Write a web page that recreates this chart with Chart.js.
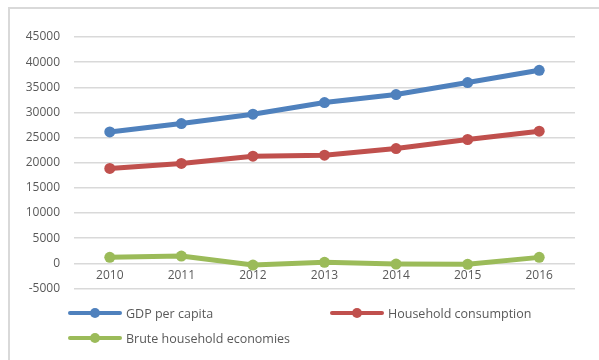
<!DOCTYPE html>
<html>
<head>
<meta charset="utf-8">
<script src="https://cdn.jsdelivr.net/npm/chart.js@4.4.1/dist/chart.umd.min.js"></script>
<style>
  html, body { margin: 0; padding: 0; background: #fff; overflow: hidden; width: 599px; height: 360px; }
  #frame { position: absolute; left: 8px; top: 7px; width: 800px; height: 500px; border: 2px solid #d9d9d9; box-sizing: border-box; }
  #wrap { position: absolute; left: 0; top: 0; width: 599px; height: 360px; }
  #legend { position: absolute; left: 0; top: 0; width: 599px; height: 360px; pointer-events: none;
            font-family: "Open Sans", sans-serif; font-size: 12.5px; color: #595959; }
  .item { position: absolute; display: flex; align-items: center; height: 16px; white-space: nowrap; }
  .item canvas { margin-right: 4px; }
</style>
</head>
<body>
<div id="frame"></div>
<div id="wrap"><canvas id="c"></canvas></div>
<div id="legend"></div>
<script>
const years = ["2010", "2011", "2012", "2013", "2014", "2015", "2016"];
const gdpPerCapita = [26130, 27800, 29650, 31970, 33560, 35940, 38380];
const householdConsumption = [18860, 19860, 21300, 21500, 22830, 24620, 26270];
const bruteHouseholdEconomies = [1190, 1450, -340, 200, -140, -200, 1190];
const seriesNames = ["GDP per capita", "Household consumption", "Brute household economies"];
const seriesColors = ["#4F81BD", "#C0504D", "#9BBB59"];
const yTicks = { min: -5000, max: 45000, step: 5000 };

const seriesValues = [gdpPerCapita, householdConsumption, bruteHouseholdEconomies];
const datasets = seriesValues.map((vals, i) => ({
  label: seriesNames[i],
  data: vals,
  borderColor: seriesColors[i],
  backgroundColor: seriesColors[i],
  borderWidth: 5,
  pointRadius: 5.5,
  pointBorderWidth: 0,
  pointHoverRadius: 5.5,
  tension: 0,
  fill: false
}));

const chart = new Chart(document.getElementById('c'), {
  type: 'line',
  data: { labels: years, datasets },
  options: {
    responsive: true,
    maintainAspectRatio: false,
    animation: false,
    layout: { padding: { top: 37, right: 24, bottom: 71.5, left: 0 } },
    plugins: { legend: { display: false }, tooltip: { enabled: false } },
    scales: {
      x: {
        type: 'category',
        position: { y: 0 },
        offset: true,
        grid: { display: false, drawTicks: false },
        border: { display: false },
        ticks: { color: '#595959', font: { family: 'Open Sans', size: 12 }, padding: 5, maxRotation: 0 }
      },
      y: {
        min: yTicks.min,
        max: yTicks.max,
        grid: { color: '#d9d9d9', lineWidth: 1.5, drawTicks: false },
        border: { display: false },
        ticks: { stepSize: yTicks.step, color: '#595959', font: { family: 'Open Sans', size: 12 }, padding: 14,
                 callback: (v) => String(v) },
        afterFit: (s) => { s.width = 74; }
      }
    }
  }
});

// HTML legend built from the chart's datasets
const legendPos = [[68, 305], [330, 305], [68, 330]];
const legendEl = document.getElementById('legend');
chart.data.datasets.forEach((ds, i) => {
  const item = document.createElement('div');
  item.className = 'item';
  item.style.left = legendPos[i][0] + 'px';
  item.style.top = legendPos[i][1] + 'px';
  const sym = document.createElement('canvas');
  sym.width = 54; sym.height = 14;
  const g = sym.getContext('2d');
  g.strokeStyle = ds.borderColor; g.lineWidth = 4; g.lineCap = 'round';
  g.beginPath(); g.moveTo(2, 7); g.lineTo(52, 7); g.stroke();
  g.fillStyle = ds.borderColor;
  g.beginPath(); g.arc(27, 7, 5, 0, Math.PI * 2); g.fill();
  const txt = document.createElement('span');
  txt.textContent = ds.label;
  item.appendChild(sym); item.appendChild(txt);
  legendEl.appendChild(item);
});
</script>
</body>
</html>
